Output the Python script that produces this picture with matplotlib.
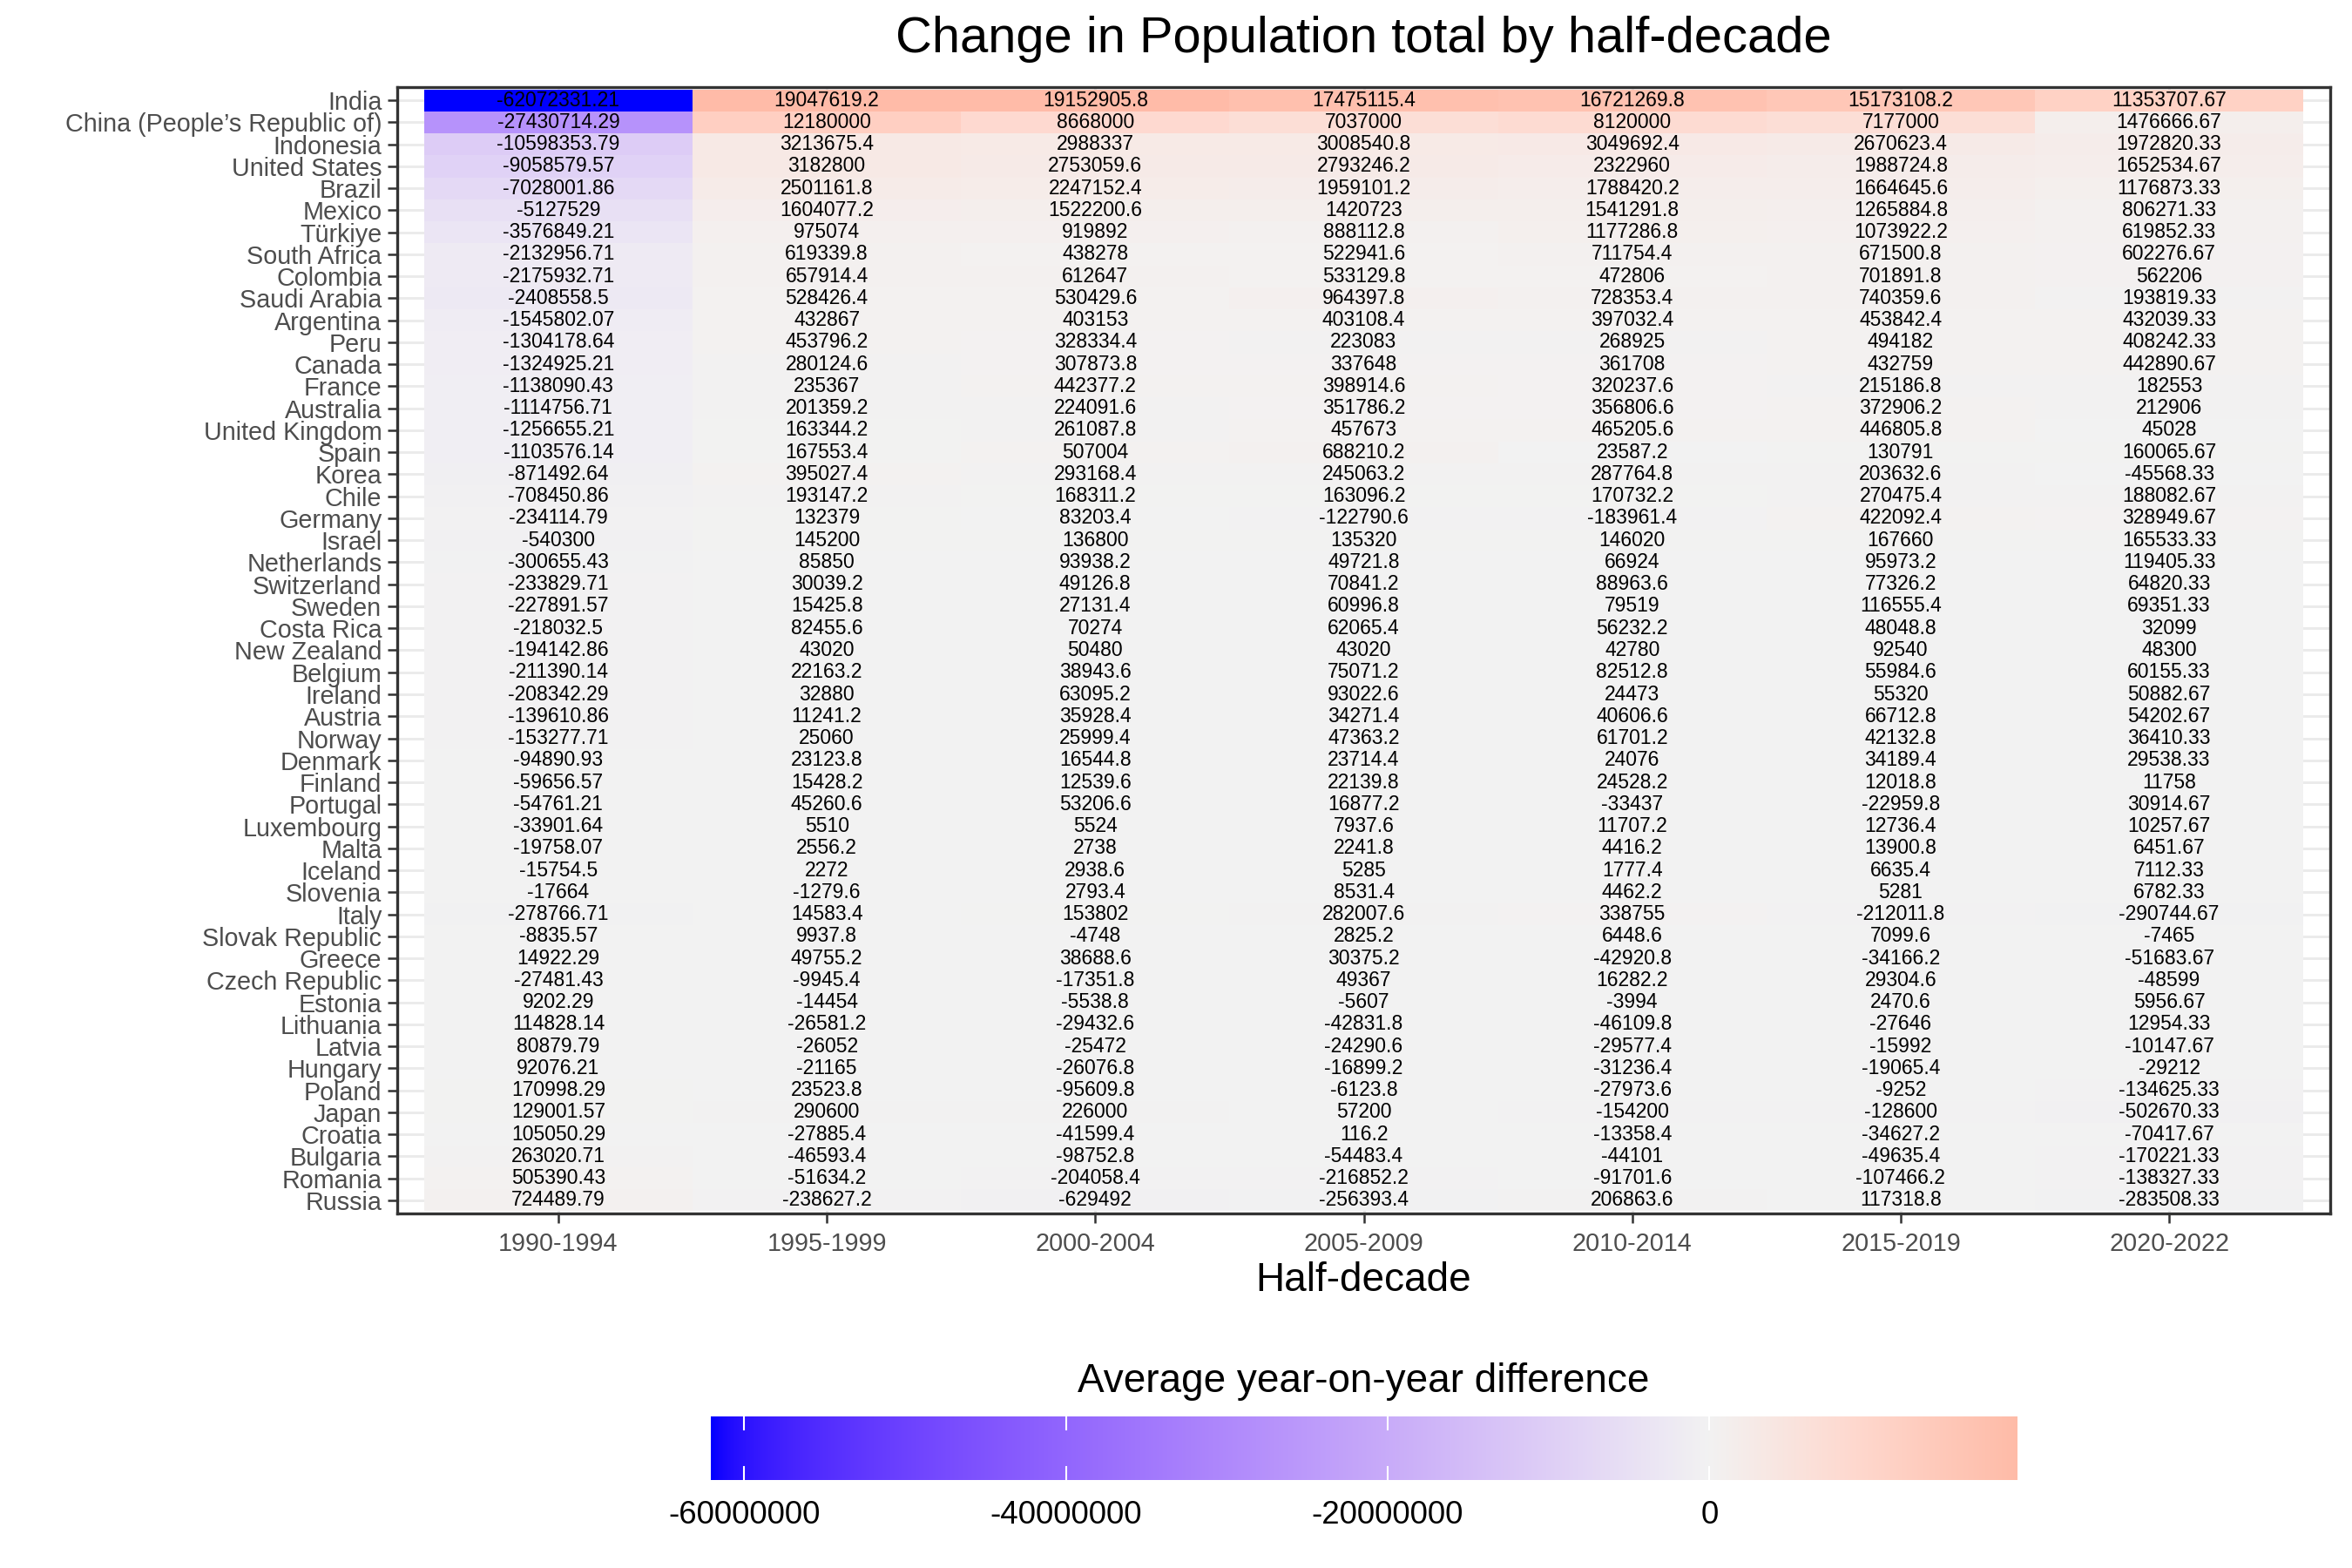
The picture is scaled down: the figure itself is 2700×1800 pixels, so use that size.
import numpy as np
import matplotlib
matplotlib.use("Agg")
import matplotlib.pyplot as plt
from matplotlib.colors import ListedColormap, Normalize

plt.rcParams['font.family'] = ['Liberation Sans', 'DejaVu Sans']

title = "Change in Population total by half-decade"
x_label = "Half-decade"
legend_title = "Average year-on-year difference"

periods = ["1990-1994", "1995-1999", "2000-2004", "2005-2009", "2010-2014", "2015-2019", "2020-2022"]

countries = ["India", "China (People\u2019s Republic of)", "Indonesia", "United States", "Brazil", "Mexico",
             "T\u00fcrkiye", "South Africa", "Colombia", "Saudi Arabia", "Argentina", "Peru", "Canada",
             "France", "Australia", "United Kingdom", "Spain", "Korea", "Chile", "Germany", "Israel",
             "Netherlands", "Switzerland", "Sweden", "Costa Rica", "New Zealand", "Belgium", "Ireland",
             "Austria", "Norway", "Denmark", "Finland", "Portugal", "Luxembourg", "Malta", "Iceland",
             "Slovenia", "Italy", "Slovak Republic", "Greece", "Czech Republic", "Estonia", "Lithuania",
             "Latvia", "Hungary", "Poland", "Japan", "Croatia", "Bulgaria", "Romania", "Russia"]

v1990 = [-62072331.21, -27430714.29, -10598353.79, -9058579.57, -7028001.86, -5127529, -3576849.21,
         -2132956.71, -2175932.71, -2408558.5, -1545802.07, -1304178.64, -1324925.21, -1138090.43,
         -1114756.71, -1256655.21, -1103576.14, -871492.64, -708450.86, -234114.79, -540300, -300655.43,
         -233829.71, -227891.57, -218032.5, -194142.86, -211390.14, -208342.29, -139610.86, -153277.71,
         -94890.93, -59656.57, -54761.21, -33901.64, -19758.07, -15754.5, -17664, -278766.71, -8835.57,
         14922.29, -27481.43, 9202.29, 114828.14, 80879.79, 92076.21, 170998.29, 129001.57, 105050.29,
         263020.71, 505390.43, 724489.79]
v1995 = [19047619.2, 12180000, 3213675.4, 3182800, 2501161.8, 1604077.2, 975074, 619339.8, 657914.4,
         528426.4, 432867, 453796.2, 280124.6, 235367, 201359.2, 163344.2, 167553.4, 395027.4, 193147.2,
         132379, 145200, 85850, 30039.2, 15425.8, 82455.6, 43020, 22163.2, 32880, 11241.2, 25060, 23123.8,
         15428.2, 45260.6, 5510, 2556.2, 2272, -1279.6, 14583.4, 9937.8, 49755.2, -9945.4, -14454, -26581.2,
         -26052, -21165, 23523.8, 290600, -27885.4, -46593.4, -51634.2, -238627.2]
v2000 = [19152905.8, 8668000, 2988337, 2753059.6, 2247152.4, 1522200.6, 919892, 438278, 612647, 530429.6,
         403153, 328334.4, 307873.8, 442377.2, 224091.6, 261087.8, 507004, 293168.4, 168311.2, 83203.4,
         136800, 93938.2, 49126.8, 27131.4, 70274, 50480, 38943.6, 63095.2, 35928.4, 25999.4, 16544.8,
         12539.6, 53206.6, 5524, 2738, 2938.6, 2793.4, 153802, -4748, 38688.6, -17351.8, -5538.8, -29432.6,
         -25472, -26076.8, -95609.8, 226000, -41599.4, -98752.8, -204058.4, -629492]
v2005 = [17475115.4, 7037000, 3008540.8, 2793246.2, 1959101.2, 1420723, 888112.8, 522941.6, 533129.8,
         964397.8, 403108.4, 223083, 337648, 398914.6, 351786.2, 457673, 688210.2, 245063.2, 163096.2,
         -122790.6, 135320, 49721.8, 70841.2, 60996.8, 62065.4, 43020, 75071.2, 93022.6, 34271.4, 47363.2,
         23714.4, 22139.8, 16877.2, 7937.6, 2241.8, 5285, 8531.4, 282007.6, 2825.2, 30375.2, 49367, -5607,
         -42831.8, -24290.6, -16899.2, -6123.8, 57200, 116.2, -54483.4, -216852.2, -256393.4]
v2010 = [16721269.8, 8120000, 3049692.4, 2322960, 1788420.2, 1541291.8, 1177286.8, 711754.4, 472806,
         728353.4, 397032.4, 268925, 361708, 320237.6, 356806.6, 465205.6, 23587.2, 287764.8, 170732.2,
         -183961.4, 146020, 66924, 88963.6, 79519, 56232.2, 42780, 82512.8, 24473, 40606.6, 61701.2, 24076,
         24528.2, -33437, 11707.2, 4416.2, 1777.4, 4462.2, 338755, 6448.6, -42920.8, 16282.2, -3994,
         -46109.8, -29577.4, -31236.4, -27973.6, -154200, -13358.4, -44101, -91701.6, 206863.6]
v2015 = [15173108.2, 7177000, 2670623.4, 1988724.8, 1664645.6, 1265884.8, 1073922.2, 671500.8, 701891.8,
         740359.6, 453842.4, 494182, 432759, 215186.8, 372906.2, 446805.8, 130791, 203632.6, 270475.4,
         422092.4, 167660, 95973.2, 77326.2, 116555.4, 48048.8, 92540, 55984.6, 55320, 66712.8, 42132.8,
         34189.4, 12018.8, -22959.8, 12736.4, 13900.8, 6635.4, 5281, -212011.8, 7099.6, -34166.2, 29304.6,
         2470.6, -27646, -15992, -19065.4, -9252, -128600, -34627.2, -49635.4, -107466.2, 117318.8]
v2020 = [11353707.67, 1476666.67, 1972820.33, 1652534.67, 1176873.33, 806271.33, 619852.33, 602276.67,
         562206, 193819.33, 432039.33, 408242.33, 442890.67, 182553, 212906, 45028, 160065.67, -45568.33,
         188082.67, 328949.67, 165533.33, 119405.33, 64820.33, 69351.33, 32099, 48300, 60155.33, 50882.67,
         54202.67, 36410.33, 29538.33, 11758, 30914.67, 10257.67, 6451.67, 7112.33, 6782.33, -290744.67,
         -7465, -51683.67, -48599, 5956.67, 12954.33, -10147.67, -29212, -134625.33, -502670.33, -70417.67,
         -170221.33, -138327.33, -283508.33]

colorbar_ticks = [-60000000, -40000000, -20000000, 0]

# ---------- colour scale (ggplot-like gradient2 interpolated in Lab) ----------
def _srgb_to_lab(rgb):
    rgb = np.asarray(rgb, float)
    lin = np.where(rgb <= 0.04045, rgb / 12.92, ((rgb + 0.055) / 1.055) ** 2.4)
    M = np.array([[0.4124564, 0.3575761, 0.1804375],
                  [0.2126729, 0.7151522, 0.0721750],
                  [0.0193339, 0.1191920, 0.9503041]])
    xyz = lin @ M.T
    wp = np.array([0.95047, 1.0, 1.08883])
    t = xyz / wp
    f = np.where(t > (6 / 29) ** 3, np.cbrt(t), t / (3 * (6 / 29) ** 2) + 4 / 29)
    L = 116 * f[..., 1] - 16
    a = 500 * (f[..., 0] - f[..., 1])
    b = 200 * (f[..., 1] - f[..., 2])
    return np.stack([L, a, b], -1)

def _lab_to_srgb(lab):
    lab = np.asarray(lab, float)
    fy = (lab[..., 0] + 16) / 116
    fx = fy + lab[..., 1] / 500
    fz = fy - lab[..., 2] / 200
    f = np.stack([fx, fy, fz], -1)
    d = 6 / 29
    t = np.where(f > d, f ** 3, 3 * d * d * (f - 4 / 29))
    xyz = t * np.array([0.95047, 1.0, 1.08883])
    Minv = np.array([[3.2404542, -1.5371385, -0.4985314],
                     [-0.9692660, 1.8760108, 0.0415560],
                     [0.0556434, -0.2040259, 1.0572252]])
    lin = xyz @ Minv.T
    lin = np.clip(lin, 0, 1)
    srgb = np.where(lin <= 0.0031308, 12.92 * lin, 1.055 * lin ** (1 / 2.4) - 0.055)
    return np.clip(srgb, 0, 1)

low_c = _srgb_to_lab([0.0, 0.0, 1.0])
mid_c = _srgb_to_lab([0xF2 / 255, 0xF2 / 255, 0xF2 / 255])
high_c = _srgb_to_lab([1.0, 0.0, 0.0])
tt = np.linspace(0, 1, 2048)
labs = np.where(tt[:, None] < 0.5,
                low_c + (mid_c - low_c) * (tt[:, None] / 0.5),
                mid_c + (high_c - mid_c) * ((tt[:, None] - 0.5) / 0.5))
cmap = ListedColormap(_lab_to_srgb(labs))

data = np.array([v1990, v1995, v2000, v2005, v2010, v2015, v2020], dtype=float).T  # rows=countries
n_rows, n_cols = data.shape
M = np.abs(data).max()
norm = Normalize(vmin=-M, vmax=M)

def fmt(v):
    s = f"{v:.2f}".rstrip('0').rstrip('.')
    return s

# ---------- figure ----------
fig = plt.figure(figsize=(9, 6), dpi=300)
W, H = 2700, 1800
pl, pr, pt, pb = 456, 2675, 100, 1393
ax = fig.add_axes([pl / W, 1 - pb / H, (pr - pl) / W, (pb - pt) / H])

xs = np.arange(1, n_cols + 1)
ys = n_rows - np.arange(n_rows)  # top row at top

# grid lines (behind)
for y in ys:
    ax.axhline(y, color='#EBEBEB', lw=0.7, zorder=0)
for x in xs:
    ax.axvline(x, color='#EBEBEB', lw=0.7, zorder=0)

xe = np.arange(0.5, n_cols + 1.0, 1.0)
ye = np.arange(0.5, n_rows + 1.0, 1.0)
ax.pcolormesh(xe, ye, data[::-1, :], cmap=cmap, norm=norm, shading='flat', zorder=1,
              edgecolors='none', antialiased=False)

for i in range(n_rows):
    for j in range(n_cols):
        ax.text(xs[j], ys[i], fmt(data[i, j]), ha='center', va='center', fontsize=5.5,
                color='black', zorder=3)

ax.set_xlim(0.4, n_cols + 0.6)
ax.set_ylim(0.4, n_rows + 0.6)
ax.set_xticks(xs)
ax.set_xticklabels(periods)
ax.set_yticks(ys)
ax.set_yticklabels(countries)
ax.tick_params(axis='both', which='major', length=2.75, width=0.6, color='#333333',
               labelcolor='#4D4D4D', labelsize=6.9, direction='out')
ax.tick_params(axis='x', pad=2.4)
ax.tick_params(axis='y', pad=1.5)
for s in ax.spines.values():
    s.set_color('#333333')
    s.set_linewidth(0.8)
    s.set_zorder(5)

fig.text((pl + pr) / 2 / W, 1 - 60 / H, title, ha='center', va='baseline', fontsize=13.9, color='black')
fig.text((pl + pr) / 2 / W, 1 - 1470 / H, x_label, ha='center', va='center', fontsize=11, color='black')
fig.text((pl + pr) / 2 / W, 1 - 1598 / H, legend_title, ha='center', va='baseline', fontsize=11,
         color='black')

# ---------- colorbar ----------
cb_l, cb_r, cb_t, cb_b = 816, 2316, 1626, 1699
cax = fig.add_axes([cb_l / W, 1 - cb_b / H, (cb_r - cb_l) / W, (cb_b - cb_t) / H])
dmin, dmax = data.min(), data.max()
grad = np.linspace(dmin, dmax, 1000)[None, :]
cax.imshow(grad, aspect='auto', cmap=cmap, norm=norm, extent=[dmin, dmax, 0, 1],
           interpolation='bilinear')
cax.set_xlim(dmin, dmax)
cax.set_ylim(0, 1)
for tv in colorbar_ticks:
    cax.plot([tv, tv], [0, 0.2], color='white', lw=0.5)
    cax.plot([tv, tv], [0.8, 1], color='white', lw=0.5)
cax.set_yticks([])
cax.set_xticks(colorbar_ticks)
cax.set_xticklabels([str(t) for t in colorbar_ticks])
cax.tick_params(axis='x', length=0, pad=5.5, labelsize=8.8, labelcolor='black')
for s in cax.spines.values():
    s.set_visible(False)

fig.savefig("out.png", dpi=300)
